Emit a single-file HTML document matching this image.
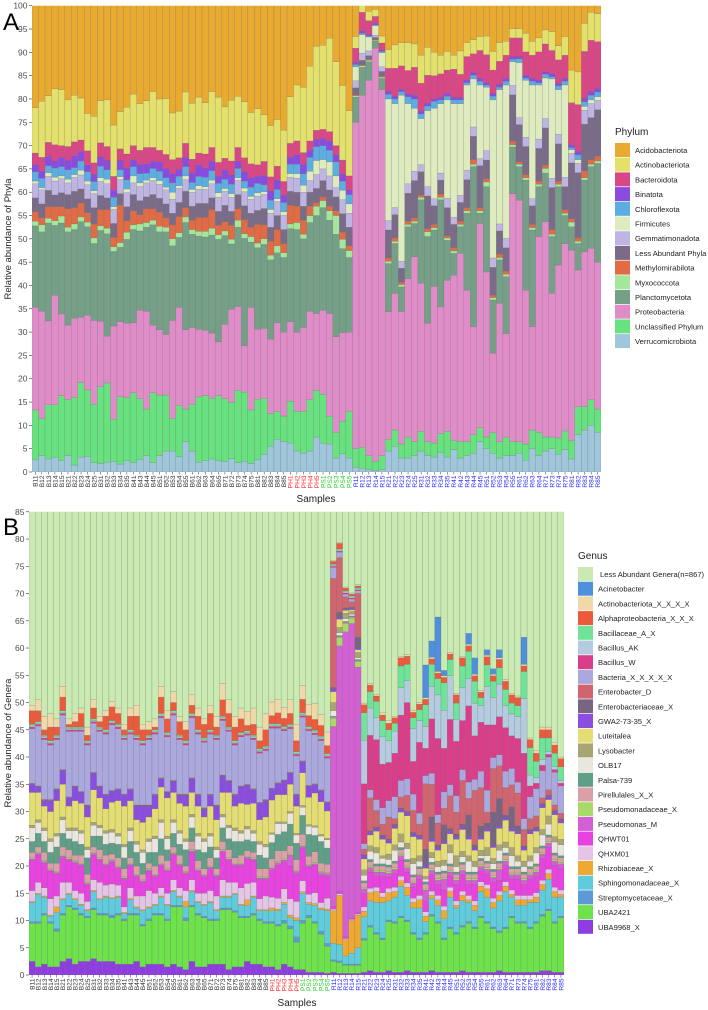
<!DOCTYPE html>
<html><head><meta charset="utf-8">
<style>
html,body{margin:0;padding:0;background:#fff;}
svg{display:block;font-family:"Liberation Sans",sans-serif;}
</style></head>
<body>
<svg id="chart" width="708" height="1010" viewBox="0 0 708 1010" xmlns="http://www.w3.org/2000/svg">
<defs>
<clipPath id="clipA"><rect x="32" y="5.7" width="569" height="466.3"/></clipPath>
<clipPath id="clipB"><rect x="29" y="511.8" width="535" height="463.2"/></clipPath>
</defs>
<text x="3" y="30" font-size="24">A</text>
<text x="3" y="535" font-size="24">B</text>
<text transform="translate(11,239) rotate(-90)" text-anchor="middle" font-size="9.5" fill="#222">Relative abundance of Phyla</text>
<text transform="translate(11,743) rotate(-90)" text-anchor="middle" font-size="9.5" fill="#222">Relative abundance of Genera</text>
<text x="316" y="502" text-anchor="middle" font-size="10" fill="#222">Samples</text>
<text x="297" y="1006" text-anchor="middle" font-size="10" fill="#222">Samples</text>
<g id="gA"></g><g id="gB"></g>
</svg>
<script>
const NS="http://www.w3.org/2000/svg";
const samples=["B11","B12","B13","B14","B15","B21","B22","B23","B24","B25","B31","B32","B33","B34","B35","B41","B43","B44","B45","B51","B52","B53","B54","B55","B61","B62","B63","B64","B65","B71","B72","B73","B74","B75","B81","B82","B83","B84","B85","PH1","PH2","PH3","PH4","PH5","PS1","PS2","PS3","PS4","PS5","R11","R12","R13","R14","R15","R21","R22","R23","R24","R25","R31","R32","R33","R34","R35","R41","R42","R43","R44","R45","R51","R52","R53","R54","R55","R61","R62","R63","R64","R71","R73","R74","R75","R81","R82","R83","R84","R85"];
const ticksA=[0,5,10,15,20,25,30,35,40,45,50,55,60,65,70,75,80,85,90,95,100];
const ticksB=[0,5,10,15,20,25,30,35,40,45,50,55,60,65,70,75,80,85];

// ---- Panel A (phylum) values per sample ----
const verrA=[2.6,3.5,2.8,3.2,2.4,3.5,1.5,3.2,3.4,2,1.8,2.1,2.3,1.7,2.4,2,2.7,3.5,2,3.5,4.5,4.5,3.3,6.5,4.5,2.1,2.4,2.8,2.4,2.2,2.9,2,2.3,1.8,2.6,3.8,5.5,7,6.5, 6.2,4.5,4,4.5,7.5, 6.2,6,3,3.9,3, 1,0.8,0.5,0.3,0.5, 4.5,5.5,3,3,3.5,4.5,3.5,3.2,4.2,3.2,4.8,3,3.5,4,6.5,5,4,3,3.5,3.5,4,2.5,5,3.5,4.5,5,3.8,4.8,2.8,8,9,10,8.5];
const unclA=[10.7,8,11.6,11.2,14,12,14.5,16,14.2,12.5,16.5,17,9,14.5,13.5,15,13,10,15,13,12,7,11,7,10,14,14,13,14,13.5,12,15.5,14.8,11.5,13,12,7,6,5.5, 9,8.5,9,11,10, 10.5,6,5.5,7,10, 4,4.5,3,2,3, 2.5,3.5,3,4.5,3,4.2,3,3,4,5.5,2,3.5,3,4,3,2.5,4.5,3.5,4,3,2.5,3.5,4,5,3,2.5,3.5,4,4,6,5,5.5,5];
const proteoA=[22,23,18,23.5,17.5,16,17,14,16,18,14,10,20,16,16,15,19,21,14.5,14,13,21,21,17,16.5,14.5,14,14,11.5,16,20,18,10,22,15,15,16,19,18, 17,17,18,19,16.5, 18,22,20.5,19,17, 70,75.5,80.5,88.6,78.5, 27.4,29.3,28.4,34,39.7,31.8,25.4,33.6,27.2,32.4,35.4,40.4,32.5,23.2,43.8,35.4,17,29.7,22.2,53.2,51.8,33,22.2,42,46.2,30.8,37.1,40.2,40.8,29.3,33.2,32.5,31.5];
const planctoA=[17.5,17,21,15,19.5,20,19,20.5,19,16.5,19.5,22,16,16,18,20,17,18,21.5,21,22,16,15,23,20,20,20,21,22,19,14,17,23,14,17.5,18,17,15,16, 20,22,19,19,21, 22,20,22,18,16, 5.4,6,4,1.5,2.4, 10.3,10.7,5.3,11.1,7.1,17.9,18.6,12.1,23,8.6,4.7,5.7,16.5,34.3,2.2,18.3,11.4,9.3,12.2,10,7.2,23.6,20.7,10.7,10.4,12.2,16.8,6,5,5.7,15.4,17.5,21.2];
const myxoA=[1,1.5,1,1,1.5,1,1.2,1,1,1.2,1,1.2,1,1,1.5,1,1.5,1,1,1.2,1,1.5,1,1.2,1,1,1.2,1.5,1,1,1,1.5,1,1.2,1,1.2,1,1.5,1, 1,1.5,1,1.5,2, 1.5,2,4,2,1.5, 0.3,0.3,0.3,0.2,0.3, 0.5,0.5,0.5,0.5,0.5,0.5,1,0.5,0.5,0.5,0.5,0.5,0.5,0.5,0.5,1,0.5,0.5,0.5,0.5,0.5,0.5,0.5,0.5,1,0.5,0.5,0.5,1,0.5,0.5,0.5,0.5];
const methylA=[2,1.5,2.5,3,2,4,3.5,3,2,3,3.5,4,2,8,2.5,3,2,3,2.5,3,2,3,3.5,2,2,3,3,4,2,2,3,2.5,3,2,4,3,3,3.5,2, 4,3.5,3,2,0.8, 0.8,1,1,1.5,1, 0.2,0.2,0.2,0.1,0.2, 0.7,0.7,0.5,0.7,0.7,0.5,0.7,0.7,0.7,0.5,0.7,0.7,0.7,1,0.7,0.7,0.5,0.7,0.7,0.7,0.5,0.7,0.7,0.7,0.7,1,0.7,0.7,0.7,0.7,1.5,1,1];
const lessA=[3,3,3.5,2.5,3,3,3.5,3,3,3.5,3,2.5,3,2.5,3,3.5,3,2.5,3,3,3,2.5,3,3.5,3,3,3,2.5,3,3.5,3,3,3,3,3,3.5,3,3,3, 3,3,3,3,3, 3.5,3.5,3,4,4, 1.5,1,0.8,0.5,1, 6,5,3,6,8,5,7,4,3,6,5,4,6,5,9,4,6,5,5,10,8,6,4,7,8,9,8,5,12,14,10,9,10];
const gemmaA=[3,3,3,3,3,2.5,3,3,3,3,3,3,3,3,3,2.5,3,3,3,3,3,3,3,2.5,3,3,3,3,3,3,3,3,3,3,3,3,3,3,3, 3,3,3,2.5,3, 2.5,3,2,3,3, 1.5,1.5,1,0.5,1, 2,1.5,1.5,2,2,1.5,2,1.5,1.5,2,1.5,1.5,2,2,1.5,2,2,1.5,2,2,1.5,2,1.5,2,2,2,2,2,2,2,3,3,2];
const firmA=[0.6,0.5,0.8,0.8,0.6,0.8,0.6,1,0.8,0.6,0.8,1,0.6,0.6,0.8,1.5,0.8,0.6,0.6,0.8,0.6,1.5,0.6,0.8,0.6,0.8,0.6,0.8,1,0.6,0.8,0.6,0.8,0.6,0.8,0.6,0.8,0.6,0.8, 0.8,1,1.5,2,3, 2,3,2.5,2,2, 3,4,3,2,3, 26.1,22.3,35.6,17.2,13.5,9.9,16.3,19.4,14.9,21.1,24.4,19.7,18.3,10.3,15.8,13.6,33.9,28.8,32.9,5.1,11.8,12.2,24.4,11.6,8.7,21.3,9.6,19.8,0.8,0.8,0.8,0.8,0.8];
const chloroA=[2,2,1.5,2,2,2,1.5,2,2,2,2.5,2,2,1.5,2,2,2,1.5,2,2,2,2,2,2,1.5,2,2,2,2,2,2,2,1.5,2,2,1.5,2,2,2, 2,2,2.5,3,3, 3,2.5,3,2,2, 0.5,0.3,0.2,0.2,0.3, 1,1,0.8,1.5,2,1,1,1.5,0.8,0.8,0.8,0.8,0.5,0.8,0.8,0.5,0.8,0.5,0.8,0.5,0.8,0.5,0.8,0.5,0.8,0.5,0.8,0.8,0.5,1,1,1,1];
const binaA=[1.5,1.5,2,1.5,2,2,2.5,2,1.5,1.5,2,2,1.5,2,2.5,1.5,2,2,1.5,2,2,2,1.5,2,2,2.5,2,2,1.5,2,2,1.5,2,2,1.5,2,2,2,1.5, 1.5,2,2,1.5,1.5, 1.5,2,1.5,1.5,1, 0.5,0.5,0.3,0.3,0.3, 0.6,0.6,0.5,0.6,0.8,0.6,0.6,0.5,0.6,0.6,0.6,0.5,0.6,0.6,0.6,0.5,0.6,0.6,0.6,0.6,0.5,0.6,0.6,0.6,0.5,0.6,0.6,0.6,0.6,0.8,0.8,0.8,0.8];
const bacteA=[2.5,3,3,3.5,2.5,3,3,2.5,3,2.5,3,3,3,2.5,3,3,3,3.5,3,2.5,3,3,2.5,3,3,2.5,3,3,3,2.5,3,3,3,3,2.5,3,3,3,3, 3,3,2.5,2,2, 2,2,2,3,3, 3,4,3,1.5,1.5, 5,6,5,5,6,6,6,5,5,5,6,5,5,4,6,6,5,5,5,4,4,5,5,6,6,5,5,5,9,10,10,11,10];
const actinoA=[9.7,12,10,12,12,10,10,9,8,10,9,10,11,8,10,11,10,10,12,11,12,10,10,11,12,12,11,12,14,11,13,11,12,11,12,10,11,10,11, 10,12,14,16,18, 18,20,18,16,14, 2.5,2,2,1.5,1.5, 4,5,5,6,5,6,6,5,4,4,3,5,3,3,3,4,4,4,3,2,2,4,3,3,3,4,3,4,7,7,6,6,6];
const acidoA=[28,25,27,27,23,27,30,27,32,27,27,31,28,31,27,26,26,28,28,24,26,24,27,24,26,26,24,21,24,25,24,25,27,25,25,28,29,28,27, 28,27,26,24,22, 30,30,30,30,30, 20,20,20,20,20, 17,16,13,16,18,16,19,22,19,19,12,16,14,16,18,15,18,19,13,17,15,12,14,17,14,17,19,15,22,21,22,24,21];

// ---- Panel B (genus) values per sample ----
const uba9968B=[2.5,1.5,2,1.5,1.5,2.5,3,2,2.5,2.5,3,2.5,2.5,2.5,2,2,2,2.5,1.5,2,2,2,1.5,2,1.5,1,2.5,1.5,1.5,2,2,2,1,1.5,1.5,2.5,2,2,1.5, 1.5,1,2,1.5,1, 1,0.5,0.5,0.5,0.3, 0.5,0.3,0.3,0.3,0.3, 0.5,0.8,0.5,0.5,0.8,0.5,0.5,0.8,0.5,0.5,0.5,0.8,0.5,0.5,0.5,0.5,0.8,0.5,0.5,0.5,0.5,0.5,0.8,0.5,0.5,0.5,0.5,0.5,0.5,0.8,0.8,0.5,0.5];
const uba2421B=[7,8,9,8,6.5,8.5,9.5,10,8.5,8,9,8.5,8.5,8,9,8,9,8.5,7.5,8,9,9,8.5,10.5,11,9,10,9.5,9,8,8,10,11,10,9,8,9,8,8, 8,8,7.5,7,5, 8.5,10,9,7,5, 2,2,1.5,1.5,1.5, 5.9,8,7,6,9,9,10,9,7,6,7,10,9,6,8,7,8,9,8,10,9,8,7,8,10,9,9,8,9,10,11,9,10];
const strepB=[0.3,0.3,0.3,0.3,0.5,0.3,0.3,0.3,0.3,0.3,0.3,0.3,0.3,0.5,0.3,0.3,0.3,0.3,0.3,0.3,0.3,0.3,0.3,0.3,0.3,0.5,0.3,0.3,0.3,0.3,0.3,0.3,0.3,0.3,0.3,0.3,0.3,0.3,0.3, 0.3,0.3,0.5,0.5,1, 0.5,0.5,0.3,0.5,0.5, 0.3,0.3,0.2,0.2,0.2, 0.3,0.3,0.3,0.3,0.3,0.3,0.3,0.3,0.3,0.3,0.3,0.3,0.3,0.3,0.3,0.3,0.3,0.3,0.3,0.3,0.3,0.3,0.3,0.3,0.3,0.3,0.3,0.3,0.3,0.3,0.3,0.3,0.3];
const sphingoB=[3.5,5,3,1,3,2.5,2,1.5,1.5,1,3,2.5,3,3,3,1,2.5,1,2.5,2,1.5,3,2.5,2.5,1.5,2,2.5,2,2,3,1.5,2,2,3,2,2,3,1.5,2, 2,2.5,3,1.5,3, 5,2,3,4,6, 3,3,1.5,2,3, 4,4.5,5.5,6.5,3.5,4.5,5.5,4.5,4.5,5.5,2,3,3,3.5,5.5,4.5,4.5,3.5,3,4.5,4.5,3.5,5.5,6.5,3.5,3,3,4.5,3.5,4.5,5.5,4.5,3.5];
const rhizoB=[0.2,0.2,0.2,0.2,1,0.2,0.2,0.2,0.2,0.2,0.2,0.2,0.2,0.2,0.2,0.2,0.2,0.2,0.2,0.2,0.2,0.2,0.2,0.2,0.2,1,0.2,0.2,0.2,0.2,0.2,0.2,0.2,0.2,0.2,1,0.2,0.2,0.2, 0.5,0.3,0.3,0.5,0.5, 0.3,0.3,0.3,0.3,0.3, 6,9,3,6,6, 1,1.5,2,1,1.5,1,1,1.5,1,1.5,1,0.5,1,1.5,1,0.5,1,0.5,1,1,1.5,1,1,1,0.5,1,1,0.5,1,1,1,1,0.5];
const qhxmB=[2,2,1.5,3,2,3,2,1.5,2,1.5,2,3,2,2.5,2,1,2,2,2.5,3,2,1.5,2,2,1.5,2,2,1.5,2,2,2.5,3,2.5,2,3,3,2.5,2,2.5, 2,2,2.5,3,3, 2,1.5,2,1,2, 0.3,0.3,0.2,0.2,0.2, 0.8,0.8,0.8,0.8,0.8,0.8,0.8,0.8,0.8,0.8,0.8,0.8,0.8,0.8,0.8,0.8,0.8,0.8,0.8,0.8,0.8,0.8,0.8,0.8,0.8,0.8,0.8,0.8,0.8,0.8,0.8,0.8,0.8];
const qhwtB=[5.5,5,4.5,5,4,4.5,4,5,5,3,4.5,4,3.5,4,3,5,4,3.5,2.5,3.5,3,4,4,4.5,4,3,5,4,3,4,3.5,5,4,3,4,4.5,4,3.5,3, 5,6,5,6,5, 6,5,5,5,4, 0.5,0.5,0.3,0.3,0.3, 2.5,3,2,3,2,2.5,3,2,2,3,2,3,2,3,2,3,3,2,3,2,2,3,2,3,2,3,2,3,3,4,4,4,4];
const pseudoMB=[0.3,0.3,0.3,0.3,0.3,0.3,0.3,0.3,0.3,0.3,0.3,0.3,0.3,0.3,0.3,0.3,0.3,0.3,0.3,0.3,0.3,0.3,0.3,0.3,0.3,0.3,0.3,0.3,0.3,0.3,0.3,0.3,0.3,0.3,0.3,0.3,0.3,0.3,0.3, 0.3,0.5,0.3,2,0.5, 0.3,0.3,0.3,0.5,0.5, 33,45,56,54,45, 0.8,0.8,0.8,0.8,0.8,0.8,0.8,0.8,0.8,0.8,2,0.8,0.8,2,0.8,0.8,0.8,0.8,0.8,0.8,0.8,0.8,2,0.8,0.8,0.8,0.8,0.8,0.8,0.8,0.8,0.8,0.8];
const pseudoFamB=[0.2,0.2,0.2,0.2,0.2,0.2,0.2,0.2,0.2,0.2,0.2,0.2,0.2,0.2,0.2,0.2,0.2,0.2,0.2,0.2,0.2,0.2,0.2,0.2,0.2,0.2,0.2,0.2,0.2,0.2,0.2,0.2,0.2,0.2,0.2,0.2,0.2,0.2,0.2, 0.2,0.2,0.2,0.2,0.2, 0.2,0.2,0.2,0.2,0.2, 1.5,1.5,1.5,1,1, 0.3,0.3,0.3,0.3,0.3,0.3,0.3,0.3,0.3,0.3,0.3,0.3,0.3,0.3,0.3,0.3,0.3,0.3,0.3,0.3,0.3,0.3,0.3,0.3,0.3,0.3,0.3,0.3,0.3,0.3,0.3,0.3,0.3];
const pirellB=[1,1,1.5,1,1.5,1.5,1.5,1,1.5,1.5,1,1.5,1.5,1,1.5,1.5,1,1.5,1,1,1.5,1.5,1.5,1,1.5,1,1.5,1.5,1,1.5,1,1.5,1.5,1,1.5,1,1,1.5,1.5, 1.5,2,1.5,1.5,2, 2,1.5,2,1.5,1.5, 0.2,0.2,0.2,0.2,0.2, 0.8,0.8,0.8,0.8,0.8,0.8,0.8,0.8,0.8,0.8,0.8,0.8,0.8,0.8,0.8,0.8,0.8,0.8,0.8,0.8,0.8,0.8,0.8,0.8,0.8,0.8,0.8,0.8,0.8,0.8,0.8,0.8,0.8];
const palsaB=[2,2.5,2,2,3,2.5,2,2.5,2,3,2,2.5,2,2,2.5,2,3,2.5,2,2,2.5,3,2,2.5,2,3,2.5,2,3,2,2,2.5,2,3,2.5,2,2,2.5,2, 3,3,3.5,4,3, 3.5,4,3,4,3, 0.2,0.2,0.2,0.2,0.2, 0.4,0.4,0.4,0.4,0.4,0.4,0.4,0.4,0.4,0.4,0.4,0.4,0.4,0.4,0.4,0.4,0.4,0.4,0.4,0.4,0.4,0.4,0.4,0.4,0.4,0.4,0.4,0.4,0.4,0.4,0.4,0.4,0.4];
const olbB=[2.5,2,2,2,2,2.5,1.5,2,2,1.5,2,1.5,2,2,1.5,2,2,1.5,2,2,2.5,3,2,2,2,1.5,2,2.5,2,2,1.5,2,2,2,1.5,2,1.5,2,2, 1.5,2,1.5,2,1.5, 1.5,1.5,1.5,1,1.5, 1,0.5,0.5,0.3,0.3, 1,1.5,2,1,1,2,1,2,2,1,0.5,0.8,1,1,2,1,1,2,1,0.5,1,1,2,1,2,1,1,1,2,2,2,2,2];
const lysoB=[0.5,0.5,0.5,0.5,0.5,0.5,0.5,0.5,0.5,0.5,0.5,0.5,0.5,0.5,0.5,0.5,0.5,0.5,0.5,0.5,0.5,0.5,0.5,0.5,0.5,0.5,0.5,0.5,0.5,0.5,0.5,0.5,0.5,0.5,0.5,0.5,0.5,0.5,0.5, 0.3,0.3,0.3,0.3,0.3, 0.3,0.3,0.3,0.3,0.3, 1.5,1,1,0.5,1, 1,1,1,0.5,1,1,1.5,1,1,1,0.5,1,1,1,1.5,2,1,1,1,1,1.5,1,1,1,1.5,1,1,1,1,1,1.5,1,1];
const luteiB=[6,5,4,5,6,6,4,5,5,5.5,6,5,4,5,6,7,5,4,5,4,5,6,7,5,5,6,4,5,4,5,5,4,6,4,5,4,5,4,5, 6,5,5,5,5, 6,5,6,6,5, 2,1.5,0.5,0.3,0.5, 2,2,3,3,2,3,4,5,4,3,1.5,2,2,3,2,3,4,3,2,2,3,2,3,4,3,4,2,4,3,4,3,4,3];
const gwaB=[1.5,1,1,2,2,2.5,1.5,2.5,2,2,3,2,2.5,2,2,2,2,2.5,3,2,2.5,1.5,1,2,1.5,2,2.5,2,1.5,2,2.5,3,2,2,3,3.5,2.5,3,3, 2,2,2.5,2,2, 2,2,1.5,2,1.5, 0.5,0.3,0.2,0.2,0.3, 0.5,0.5,0.5,0.5,0.5,0.5,0.5,0.5,0.5,0.5,0.5,0.5,0.5,0.5,0.5,0.5,0.5,0.5,0.5,0.5,0.5,0.5,0.5,0.5,0.5,0.5,0.5,0.5,0.5,0.5,0.5,0.5,0.5];
const enteroXB=[0.1,0.1,0.1,0.1,0.1,0.1,0.1,0.1,0.1,0.1,0.1,0.1,0.1,0.1,0.1,0.1,0.1,0.1,0.1,0.1,0.1,0.1,0.1,0.1,0.1,0.1,0.1,0.1,0.1,0.1,0.1,0.1,0.1,0.1,0.1,0.1,0.1,0.1,0.1, 0.1,0.1,0.1,0.1,0.1, 0.1,0.1,0.1,0.1,0.1, 0.3,1,0.3,0.3,2, 0.3,0.3,0.3,0.3,0.3,0.3,0.3,0.3,0.3,0.3,3,4,0.5,3,0.5,0.5,0.5,4,0.5,2,1,6,5,0.5,4,1,0.3,0.3,0.3,0.3,0.3,0.3,0.3];
const enteroDB=[0.1,0.1,0.1,0.1,0.1,0.1,0.1,0.1,0.1,0.1,0.1,0.1,0.1,0.1,0.1,0.1,0.1,0.1,0.1,0.1,0.1,0.1,0.1,0.1,0.1,0.1,0.1,0.1,0.1,0.1,0.1,0.1,0.1,0.1,0.1,0.1,0.1,0.1,0.1, 0.1,0.1,0.1,0.1,0.1, 0.1,0.1,0.1,0.1,0.1, 20,10,2,1,8, 1,6,3,2,4,1,2,3,4,2,12,6,4,3,6,4,8,3,10,7,2,8,6,5,4,6,3,2,2,1,1,1,1];
const bacteriaB=[10,11,11,10,9,10,12,10,11,11,9,10,11,12,11,10,10,12,11,12,11,11,10,12,10,9,11,11,12,11,12,10,9,9,9,9,9,9,9, 11,10,9,8,7, 8,10,9,9,8, 2,1,0.5,0.5,0.5, 1,1.5,2,3,3,4,3,3,3,2,1.5,2,1.5,3,2,3,2,3,2,3,4,2,2,3,3,2,2,4,5,5,6,6,5];
const bacWB=[0.3,0.3,0.3,0.3,0.3,0.3,0.3,0.3,0.3,0.3,0.3,0.3,0.3,0.3,0.3,0.3,0.3,0.3,0.3,0.3,0.3,0.3,0.3,0.3,0.3,0.3,0.3,0.3,0.3,0.3,0.3,0.3,0.3,0.3,0.3,0.3,0.3,0.3,0.3, 0.3,0.3,0.3,0.3,0.3, 0.3,0.3,0.3,0.3,0.3, 0.2,0.2,0.2,0.2,0.2, 11,10,11,8,7,8,12,14,6,13,5,10,14,8,12,10,9,14,8,9,12,6,7,8,6,8,12,2,1,1,0.5,0.5,0.5];
const bacAKB=[0.2,0.2,0.2,0.2,0.2,0.2,0.2,0.2,0.2,0.2,0.2,0.2,0.2,0.2,0.2,0.2,0.2,0.2,0.2,0.2,0.2,0.2,0.2,0.2,0.2,0.2,0.2,0.2,0.2,0.2,0.2,0.2,0.2,0.2,0.2,0.2,0.2,0.2,0.2, 0.2,0.2,0.2,0.2,0.2, 0.2,0.2,0.2,0.2,0.2, 0.2,0.2,0.2,0.2,0.2, 8,5,4,5,4,4,5,4,6,4,4,6,8,7,8,4,6,5,6,3,7,5,6,4,4,4,10,2,1,1,0.5,0.5,0.5];
const bacillaceaeB=[0.3,0.3,0.3,0.3,0.3,0.3,0.3,0.3,0.3,0.3,0.3,0.3,0.3,0.3,0.3,0.3,0.3,0.3,0.3,0.3,0.3,0.3,0.3,0.3,0.3,0.3,0.3,0.3,0.3,0.3,0.3,0.3,0.3,0.3,0.3,0.3,0.3,0.3,0.3, 0.3,0.3,0.3,0.3,0.3, 0.3,0.3,0.3,0.3,0.3, 0.2,0.2,0.2,0.2,0.2, 5,3,3,3,2,1.5,4,3,2,2,4,4,3,5,3,3,4,5,4,1.5,4,3,3,3,2,2,5,5,3,4,2.5,2.5,2.5];
const alphaB=[2.5,2,1,2.5,1.5,2.5,0.5,1,2.5,1,2,1,2.5,2.5,2,1,2.5,3.5,2,1,0.5,3,2.5,1.5,2.5,2,1.5,2.5,2.5,3,1.5,3,2.5,2.5,2.5,1,2,1.5,3, 1.5,2,1.5,2,2, 2.5,2,2,2,1.5, 0.5,1,0.5,0.3,0.3, 1.5,1.2,1,1,1.2,1,1.5,1.5,1,1,1,1,1,1,1,1.5,1.5,1,1,1,1.5,1,1.5,1.5,1.5,1.5,1,1.5,1.5,1.5,1.5,1.5,1.5];
const actinoXB=[1,2,2.5,2.5,1.5,2,1,1.5,1,1.5,1.5,1,1,1,1,1,1.5,2,1,1.5,1.5,2,1.5,2,1,1.5,2,1.5,1,1.5,2,3,2.5,2,2,2.5,3,2.5,3, 2.5,2.5,2,2.5,3, 2.5,2,3,2,2.5, 0.2,0.2,0.2,0.2,0.2, 0.3,0.3,0.3,0.5,0.5,0.3,0.3,0.3,0.3,0.3,0.3,0.3,0.3,0.3,0.3,0.3,0.3,0.3,0.3,0.3,0.3,0.3,0.3,0.3,0.3,0.3,0.3,0.3,0.5,0.5,0.5,0.5,0.3];
const acinetoB=[0,0,0,0,0,0,0,0,0,0,0,0,0,0,0,0,0,0,0,0,0,0,0,0,0,0,0,0,0,0,0,0,0,0,0,0,0,0,0, 0,0,0,0,0, 0,0,0,0,0, 0,0,0,0,0, 0,0,0,0,0,0,0,0,0,0,6,3,10,1,0,0,0,2,3,0,1,1,1.5,0,0,0,5,0,0,0,0,0,0];
const lessB=[45,45,45,45,45,45,45,45,45,45,45,45,45,45,45,45,45,45,45,45,45,45,45,45,45,45,45,45,45,45,45,45,45,45,45,45,45,45,45, 47,47,49,51,53, 47,47,47,49,51, 40,40,40,40,40, 37,38,40,42,43,45,37,36,42,40,28,29,23,34,31,38,33,27,30,38,32,32,33,39,40,40,27,48,51,51,53,53,54];

const seriesA=[
 ["Acidobacteriota","#E9AA30",acidoA],["Actinobacteriota","#E3E06C",actinoA],["Bacteroidota","#DA4786",bacteA],
 ["Binatota","#8A4CE0",binaA],["Chloroflexota","#5CAEE2",chloroA],["Firmicutes","#DDEBBF",firmA],
 ["Gemmatimonadota","#BEB5E3",gemmaA],["Less Abundant Phyla","#7A6B88",lessA],["Methylomirabilota","#E06B45",methylA],
 ["Myxococcota","#A4E69B",myxoA],["Planctomycetota","#759F87",planctoA],["Proteobacteria","#E08CC8",proteoA],
 ["Unclassified Phylum","#67E27E",unclA],["Verrucomicrobiota","#9FC6DB",verrA]];
const seriesB=[
 ["Less Abundant Genera(n=867)","#C9EBB1",lessB],["Acinetobacter","#4F8FDD",acinetoB],["Actinobacteriota_X_X_X_X","#F0D9A8",actinoXB],
 ["Alphaproteobacteria_X_X_X","#EB5A3B",alphaB],["Bacillaceae_A_X","#6FE398",bacillaceaeB],["Bacillus_AK","#B5CCE0",bacAKB],
 ["Bacillus_W","#DA3E8A",bacWB],["Bacteria_X_X_X_X_X","#AAA8DD",bacteriaB],["Enterobacter_D","#D0646F",enteroDB],
 ["Enterobacteriaceae_X","#776583",enteroXB],["GWA2-73-35_X","#8A4DE0",gwaB],["Luteitalea","#E4DD73",luteiB],
 ["Lysobacter","#A9A573",lysoB],["OLB17","#E8E6DE",olbB],["Palsa-739","#5F9E87",palsaB],
 ["Pirellulales_X_X","#D9A1A7",pirellB],["Pseudomonadaceae_X","#A8D96B",pseudoFamB],["Pseudomonas_M","#D45FD3",pseudoMB],
 ["QHWT01","#E842E0",qhwtB],["QHXM01","#E4C5E6",qhxmB],["Rhizobiaceae_X","#EFA830",rhizoB],
 ["Sphingomonadaceae_X","#5FCCDD",sphingoB],["Streptomycetaceae_X","#5C9AD6",strepB],["UBA2421","#6EE24B",uba2421B],
 ["UBA9968_X","#8E3EE0",uba9968B]];

function mk(tag,attrs,parent){const e=document.createElementNS(NS,tag);for(const k in attrs)e.setAttribute(k,attrs[k]);parent.appendChild(e);return e;}
function slug(s){return s.toLowerCase().replace(/[^a-z0-9]+/g,'-').replace(/^-|-$/g,'');}

function panel(g,cfg){
  const {x0,x1,yZero,yTop,vmax,series,ticks,clip,legX,legY,legTitle,titleName,pfx}=cfg;
  const n=samples.length, bw=(x1-x0)/n;
  const xs=i=>x0+i*bw;
  const ys=v=>yZero-(yZero-yTop)*v/vmax;
  const bars=mk('g',{'clip-path':'url(#'+clip+')'},g);
  
  
  const order=series.slice().reverse();
  for(let i=0;i<n;i++){
    let cum=0;
    for(const s of order){
      const v=s[2][i]||0; if(v<=0)continue;
      const r=mk('rect',{x:xs(i).toFixed(2),y:ys(cum+v).toFixed(2),width:bw.toFixed(2),height:(ys(cum)-ys(cum+v)).toFixed(2),fill:s[1],stroke:'#6b6b6b','stroke-width':'0.3','stroke-opacity':'0.7'},bars);
      
      
      cum+=v;
    }
  }
  ticks.forEach(t=>{
    const y=ys(t);
    mk('line',{x1:x0-3,x2:x0,y1:y,y2:y,stroke:'#333','stroke-width':'0.6'},g);
    const tx=mk('text',{x:x0-4.5,y:y+3,'text-anchor':'end','font-size':'8.5',fill:'#4d4d4d'},g);
    tx.textContent=t;
    
    
  });
  samples.forEach((s,i)=>{
    const cx=xs(i)+bw/2;
    mk('line',{x1:cx,x2:cx,y1:yZero,y2:yZero+2.5,stroke:'#333','stroke-width':'0.5'},g);
    const col=s.startsWith('PH')?'#ff2a2a':s.startsWith('PS')?'#22cc22':s.startsWith('R')?'#2a2aff':'#333';
    const tx=mk('text',{transform:'translate('+(cx+2.4).toFixed(2)+','+(yZero+3.5)+') rotate(-90)','text-anchor':'end','font-size':'6.6',fill:col},g);
    tx.textContent=s;
    
    
  });
  const lt=mk('text',{x:legX,y:legY-15,'font-size':'10',fill:'#222'},g);
  lt.textContent=legTitle;
  
  
  series.forEach((s,k)=>{
    const cy=legY+k*14.7;
    const sw=mk('rect',{x:legX,y:cy-7,width:15,height:14,fill:s[1]},g);
    
    
    const tx=mk('text',{x:legX+20+(k===0&&pfx==='b'?2:0),y:cy+3,'font-size':'7.6',fill:'#222'},g);
    tx.textContent=s[0];
    
    
  });
}
panel(document.getElementById('gA'),{x0:32,x1:601,yZero:472,yTop:5.7,vmax:100,series:seriesA,ticks:ticksA,clip:'clipA',legX:615,legY:150,legTitle:'Phylum',titleName:'legend-title-phylum',pfx:'a'});
panel(document.getElementById('gB'),{x0:29,x1:564,yZero:975,yTop:511.8,vmax:85,series:seriesB,ticks:ticksB,clip:'clipB',legX:578,legY:574,legTitle:'Genus',titleName:'legend-title-genus',pfx:'b'});
</script>
</body></html>
